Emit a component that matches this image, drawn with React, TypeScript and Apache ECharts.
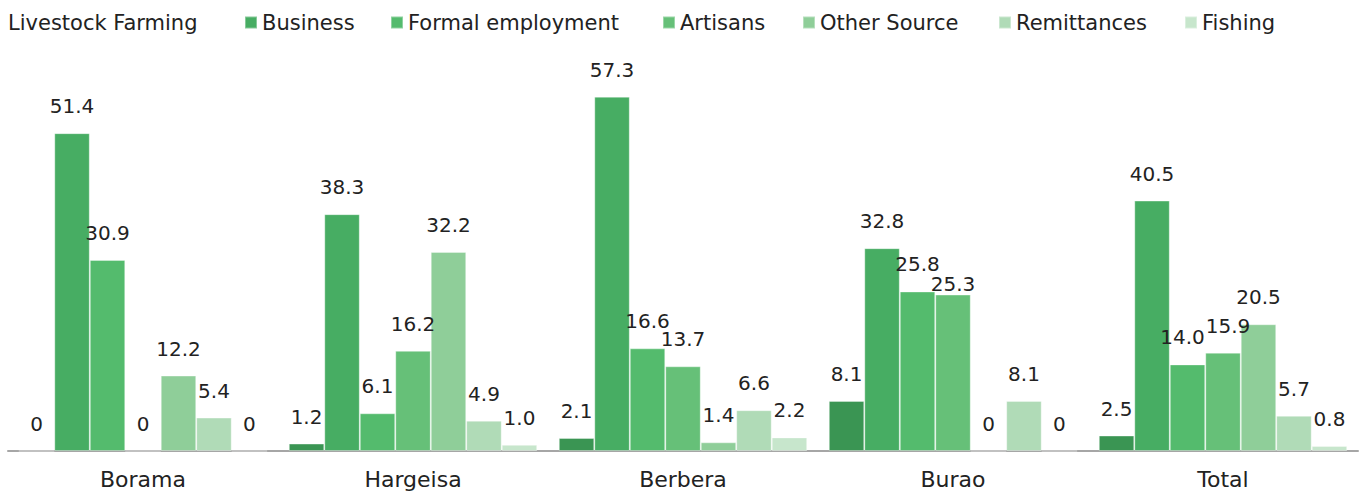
import React, { useEffect, useRef } from "react";
import * as echarts from "echarts";

const categories = ["Borama", "Hargeisa", "Berbera", "Burao", "Total"];
const seriesNames = [
  "Livestock Farming",
  "Business",
  "Formal employment",
  "Artisans",
  "Other Source",
  "Remittances",
  "Fishing",
];
const livestockFarming = [0, 1.2, 2.1, 8.1, 2.5];
const business = [51.4, 38.3, 57.3, 32.8, 40.5];
const formalEmployment = [30.9, 6.1, 16.6, 25.8, 14.0];
const artisans = [0, 16.2, 13.7, 25.3, 15.9];
const otherSource = [12.2, 32.2, 1.4, 0, 20.5];
const remittances = [5.4, 4.9, 6.6, 8.1, 5.7];
const fishing = [0, 1.0, 2.2, 0, 0.8];
const colors = ["#3a9553", "#47ad63", "#54bb6d", "#66c078", "#8fce99", "#b0dbb7", "#c7e6cc"];

const allValues = [
  livestockFarming,
  business,
  formalEmployment,
  artisans,
  otherSource,
  remittances,
  fishing,
];

// left edge of each legend entry (icon position); the first entry has no icon
const legendLeft = [-9, 244, 390, 662, 802, 998, 1184];

// label placement tweaks to keep neighbouring labels apart (as in the reference)
const labelTweaks: { s: number; c: number; label: any }[] = [
  { s: 3, c: 3, label: { distance: 1 } },
  { s: 2, c: 4, label: { offset: [-5, 0] } },
  { s: 3, c: 4, label: { offset: [5, 0] } },
];

const FONT = "DejaVu Sans";

export default function App() {
  const ref = useRef<HTMLDivElement>(null);
  useEffect(() => {
    if (!ref.current) return;
    const chart = echarts.init(ref.current, undefined, { renderer: "svg" });
    chart.setOption({
      animation: false,
      color: colors,
      textStyle: { fontFamily: FONT },
      legend: seriesNames.map((n, i) => ({
        left: legendLeft[i],
        top: 12,
        padding: 0,
        itemWidth: 12,
        itemHeight: 12,
        textStyle: { fontSize: 21, lineHeight: 20, color: "#222", fontFamily: FONT },
        data: [i === 0 ? { name: n, icon: "none" } : { name: n, icon: "rect" }],
      })),
      grid: { left: 8, right: 4, top: 80, bottom: 45, containLabel: false },
      xAxis: {
        type: "category",
        data: categories,
        axisLine: { lineStyle: { color: "#a6a6a6", width: 2 } },
        axisTick: { show: false },
        axisLabel: { fontSize: 22, color: "#222", margin: 17, fontFamily: FONT },
      },
      yAxis: {
        type: "value",
        min: 0,
        max: 60,
        show: false,
        splitLine: { show: false },
      },
      series: seriesNames.map((name, i) => ({
        name,
        type: "bar",
        data: allValues[i].map((v, j) => {
          const t = labelTweaks.find((x) => x.s === i && x.c === j);
          return t ? { value: v, label: t.label } : v;
        }),
        barGap: "0%",
        barCategoryGap: "8%",
        itemStyle: {
          color: colors[i],
          borderColor: "rgba(255,255,255,0.35)",
          borderWidth: 1,
        },
        label: {
          show: true,
          position: "top",
          distance: 17,
          fontSize: 20,
          color: "#222",
          fontFamily: FONT,
          formatter: (p: any) => (p.value === 0 ? "0" : Number(p.value).toFixed(1)),
        },
      })),
    });
    return () => chart.dispose();
  }, []);
  return (
    <div
      ref={ref}
      style={{ position: "absolute", left: 0, top: 0, width: 1362, height: 496 }}
    />
  );
}
